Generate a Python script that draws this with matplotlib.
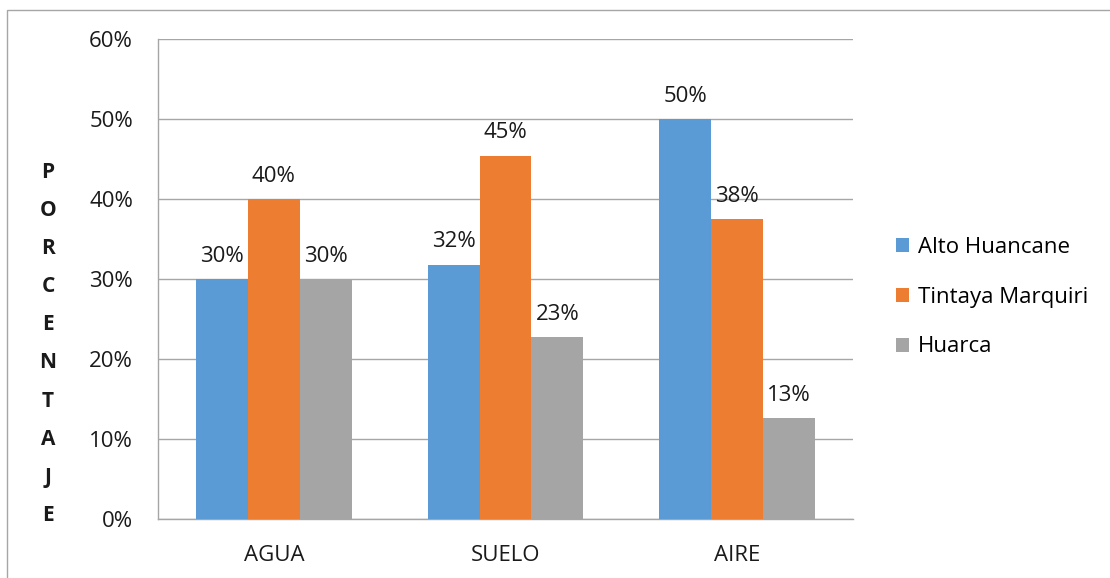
import matplotlib
matplotlib.use("Agg")
import matplotlib.pyplot as plt
import numpy as np
from matplotlib.patches import Rectangle

# --- Data ---
categories = ["AGUA", "SUELO", "AIRE"]
alto_huancane = [30.0, 31.8, 50.0]
tintaya_marquiri = [40.0, 45.4, 37.5]
huarca = [30.0, 22.7, 12.6]
series_names = ["Alto Huancane", "Tintaya Marquiri", "Huarca"]
y_ticks = [0, 10, 20, 30, 40, 50, 60]
y_label = "PORCENTAJE"

colors = ["#5B9BD5", "#ED7D31", "#A5A5A5"]
font = ["Open Sans", "DejaVu Sans"]
plt.rcParams["font.family"] = font
FS = 16

fig = plt.figure(figsize=(11.1, 5.78), dpi=100)
W, H = 1110, 578
ax = fig.add_axes([158 / W, 1 - 519 / H, (853 - 158) / W, (519 - 39) / H])

# outer chart border
fig.patches.append(Rectangle((7 / W, -0.01), 1.1, 1 - 10 / H + 0.01,
                             transform=fig.transFigure, fill=False,
                             edgecolor="#a6a6a6", linewidth=1.0))

x = np.arange(len(categories))
width = 0.224
all_series = [alto_huancane, tintaya_marquiri, huarca]
for i, (vals, name, c) in enumerate(zip(all_series, series_names, colors)):
    pos = x + (i - 1) * width
    ax.bar(pos, vals, width, color=c, label=name, zorder=3)
    for px, v in zip(pos, vals):
        ax.annotate(f"{v:.0f}%", (px, v), xytext=(0, 9), textcoords="offset points",
                    ha="center", va="bottom", fontsize=FS, color="#1a1a1a")

ax.set_xlim(-0.5, 2.5)
ax.set_ylim(0, 60)
ax.set_yticks(y_ticks)
ax.set_yticklabels([f"{t}%" for t in y_ticks])
ax.set_xticks(x)
ax.set_xticklabels(categories)
ax.tick_params(axis="both", length=0, labelsize=FS, colors="#1a1a1a")
ax.tick_params(axis="y", pad=18)
ax.tick_params(axis="x", pad=19)
ax.grid(axis="y", color="#a6a6a6", linewidth=1.0, zorder=0)
for s in ["top", "right"]:
    ax.spines[s].set_visible(False)
for s in ["left", "bottom"]:
    ax.spines[s].set_color("#a6a6a6")
    ax.spines[s].set_linewidth(1.0)

# vertical stacked axis title
for k, ch in enumerate(y_label):
    fig.text(48 / W, 1 - (172 + k * 38.2) / H, ch, ha="center", va="center",
             fontsize=15, fontweight="bold", color="#1a1a1a")

ax.legend(loc="center left", frameon=False,
          fontsize=FS, handlelength=0.6, handleheight=0.6, labelspacing=1.3,
          handletextpad=0.4, borderaxespad=0.0, borderpad=0.0)
leg = ax.get_legend()
leg.set_bbox_to_anchor((896 / W, 1 - 297 / H), transform=fig.transFigure)

fig.savefig("out.png", dpi=100)
